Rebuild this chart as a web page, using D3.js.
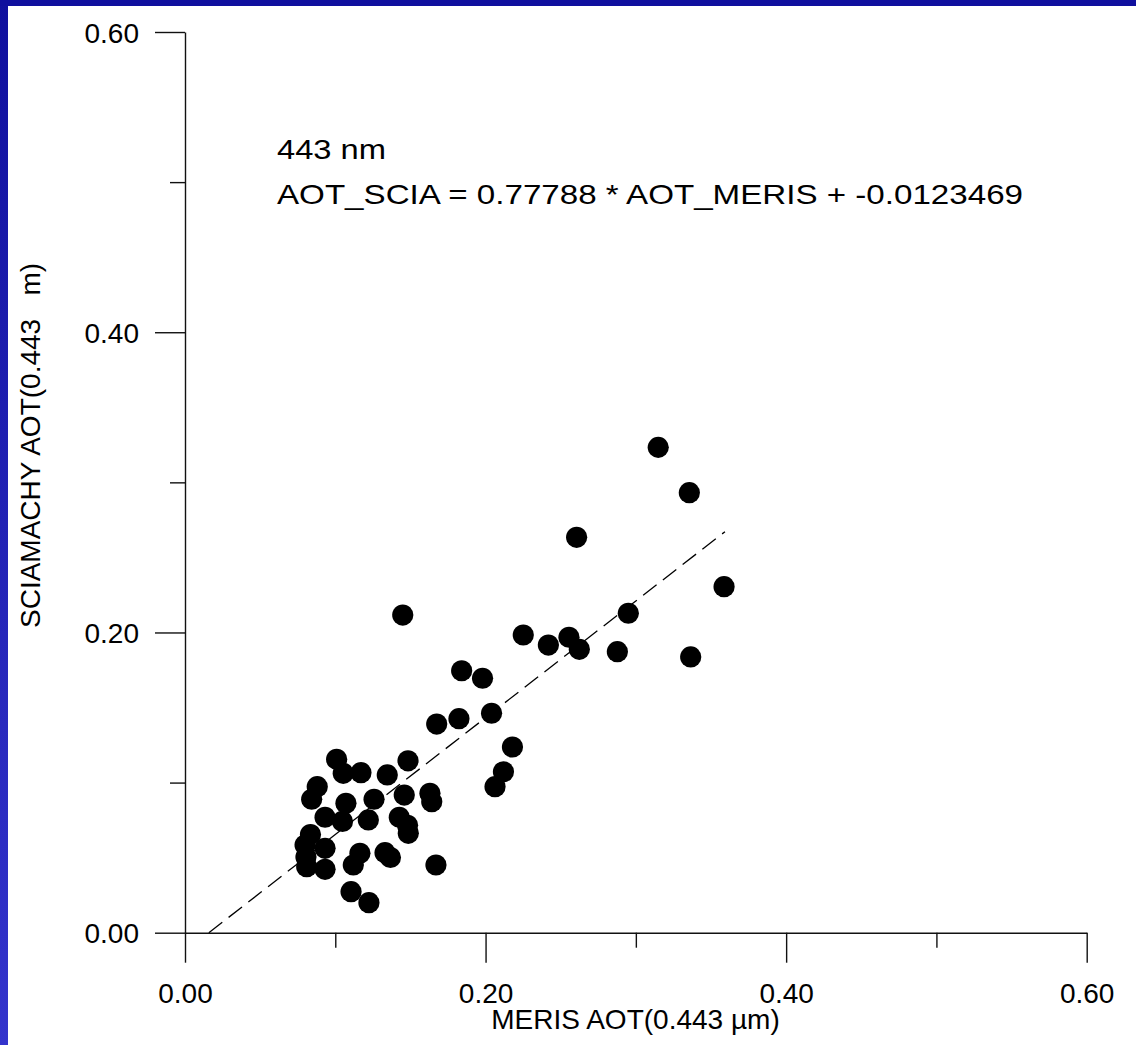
<!DOCTYPE html>
<html>
<head>
<meta charset="utf-8">
<script src="https://cdn.jsdelivr.net/npm/d3@7"></script>
<style>
  html, body { margin: 0; padding: 0; background: #ffffff; }
  svg { display: block; }
  text { font-family: Arial, "Liberation Sans", sans-serif; fill: #000; }
</style>
</head>
<body>
<script>
// ---- data ----
const merisAOT = [0.3149, 0.3356, 0.2606, 0.3587, 0.2950, 0.1449, 0.2251, 0.2555, 0.2418, 0.2624,
  0.2877, 0.3365, 0.1841, 0.1980, 0.2040, 0.1823, 0.1675, 0.2179, 0.2119, 0.2063,
  0.1009, 0.1484, 0.1053, 0.1171, 0.1346, 0.0880, 0.0843, 0.1071, 0.1258, 0.1459,
  0.1630, 0.1642, 0.0932, 0.1048, 0.1220, 0.1426, 0.1481, 0.1486, 0.0835, 0.0799,
  0.0932, 0.1164, 0.1331, 0.1367, 0.1670, 0.1120, 0.0810, 0.0932, 0.1105, 0.1224, 0.0805];
const sciaAOT = [0.3233, 0.2931, 0.2634, 0.2305, 0.2128, 0.2116, 0.1983, 0.1968, 0.1916, 0.1888,
  0.1872, 0.1837, 0.1745, 0.1695, 0.1462, 0.1426, 0.1390, 0.1237, 0.1072, 0.0973,
  0.1155, 0.1145, 0.1062, 0.1066, 0.1051, 0.0973, 0.0889, 0.0862, 0.0889, 0.0917,
  0.0929, 0.0873, 0.0769, 0.0741, 0.0751, 0.0769, 0.0715, 0.0662, 0.0654, 0.0584,
  0.0562, 0.0529, 0.0533, 0.0501, 0.0451, 0.0451, 0.0440, 0.0422, 0.0273, 0.0200, 0.0504];
const fitSlope = 0.77788;
const fitIntercept = -0.0123469;
const fitXRange = [0.01587, 0.3593];
const majorTicks = [0.0, 0.2, 0.4, 0.6];
const minorTicks = [0.1, 0.3, 0.5];
const titleLines = ["443 nm", "AOT_SCIA = 0.77788 * AOT_MERIS + -0.0123469"];
const xTitle = "MERIS AOT(0.443 \u00b5m)";
const yTitle = "SCIAMACHY AOT(0.443   m)";

// ---- layout ----
const W = 1136, H = 1045;
const svg = d3.select("body").append("svg").attr("width", W).attr("height", H);

const grad = svg.append("defs").append("linearGradient")
  .attr("id", "lg").attr("x1", 0).attr("y1", 0).attr("x2", 0).attr("y2", 1);
grad.append("stop").attr("offset", "0%").attr("stop-color", "#10109e");
grad.append("stop").attr("offset", "100%").attr("stop-color", "#3434cc");

svg.append("rect").attr("x", 0).attr("y", 0).attr("width", W).attr("height", H).attr("fill", "#fff");
svg.append("rect").attr("x", 0).attr("y", 0).attr("width", 8).attr("height", H).attr("fill", "url(#lg)");
svg.append("rect").attr("x", 0).attr("y", 0).attr("width", W).attr("height", 6).attr("fill", "#0f0f9e");

const x = d3.scaleLinear().domain([0, 0.6]).range([185, 1086.7]);
const y = d3.scaleLinear().domain([0, 0.6]).range([932.7, 32]);
const fmt = d3.format(".2f");

// x axis
const gx = svg.append("g").attr("transform", `translate(0,${y(0)})`);
gx.call(d3.axisBottom(x).tickValues(majorTicks).tickSize(30).tickSizeOuter(0).tickPadding(20).tickFormat(fmt));
const gxm = svg.append("g").attr("transform", `translate(0,${y(0)})`);
gxm.call(d3.axisBottom(x).tickValues(minorTicks).tickSize(15).tickSizeOuter(0).tickFormat(""));
gxm.select(".domain").remove();

// y axis
const gy = svg.append("g").attr("transform", `translate(${x(0)},0)`);
gy.call(d3.axisLeft(y).tickValues(majorTicks).tickSize(30).tickSizeOuter(0).tickPadding(16).tickFormat(fmt));
const gym = svg.append("g").attr("transform", `translate(${x(0)},0)`);
gym.call(d3.axisLeft(y).tickValues(minorTicks).tickSize(15).tickSizeOuter(0).tickFormat(""));
gym.select(".domain").remove();

svg.selectAll(".domain, .tick line").attr("stroke", "#111").attr("stroke-width", 1.4);
svg.selectAll(".tick text").attr("font-size", 28).attr("font-family", "Arial, 'Liberation Sans', sans-serif").attr("fill", "#000");
gy.selectAll(".tick text").attr("dy", "0.36em");

// fit line
const fitPts = fitXRange.map(v => [v, fitSlope * v + fitIntercept]);
svg.append("path")
  .attr("d", d3.line().x(d => x(d[0])).y(d => y(d[1]))(fitPts))
  .attr("fill", "none").attr("stroke", "#000").attr("stroke-width", 1.3)
  .attr("stroke-dasharray", "17,8");

// points
const pts = merisAOT.map((m, i) => [m, sciaAOT[i]]);
svg.append("g").selectAll("circle").data(pts).join("circle")
  .attr("cx", d => x(d[0])).attr("cy", d => y(d[1])).attr("r", 10.6).attr("fill", "#000");

// annotation
svg.append("text").attr("x", 277).attr("y", 159).attr("font-size", 28)
  .attr("textLength", 109).attr("lengthAdjust", "spacingAndGlyphs").text(titleLines[0]);
svg.append("text").attr("x", 277).attr("y", 204).attr("font-size", 28)
  .attr("textLength", 746).attr("lengthAdjust", "spacingAndGlyphs").text(titleLines[1]);

// axis titles
svg.append("text").attr("x", 635.5).attr("y", 1029).attr("font-size", 28)
  .attr("text-anchor", "middle").text(xTitle);
svg.append("text").attr("transform", "translate(40,628) rotate(-90)").attr("font-size", 28)
  .style("white-space", "pre").text(yTitle);
</script>
</body>
</html>
